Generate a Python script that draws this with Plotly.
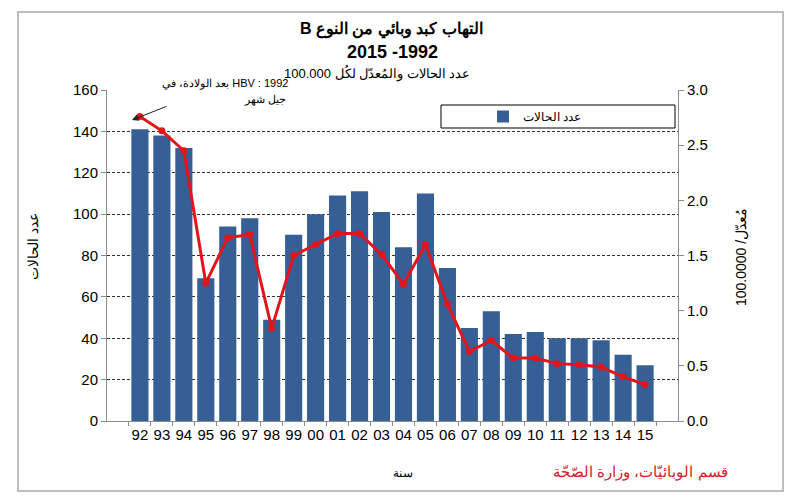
import plotly.graph_objects as go

years = ["92", "93", "94", "95", "96", "97", "98", "99", "00", "01", "02", "03",
         "04", "05", "06", "07", "08", "09", "10", "11", "12", "13", "14", "15"]
cases = [141, 138, 132, 69, 94, 98, 49, 90, 100, 109, 111, 101,
         84, 110, 74, 45, 53, 42, 43, 40, 40, 39, 32, 27]
rate = [2.76, 2.63, 2.45, 1.25, 1.66, 1.69, 0.84, 1.50, 1.60, 1.70, 1.70, 1.51,
        1.24, 1.60, 1.06, 0.63, 0.73, 0.57, 0.57, 0.52, 0.51, 0.49, 0.40, 0.33]
left_ticks = [0, 20, 40, 60, 80, 100, 120, 140, 160]
right_ticks = [0.0, 0.5, 1.0, 1.5, 2.0, 2.5, 3.0]

# page body has an 8px margin; work in page pixel coordinates and convert
OFF = 8
W, H = 784, 488
PL, PR, PT, PB = 107, 678, 90, 421          # plot area in page pixels
L, T = PL - OFF, PT - OFF
R, B = W - (PR - OFF), H - (PB - OFF)
PW, PH = PR - PL, PB - PT


def px(x):
    return (x - PL) / PW


def py(y):
    return (PB - y) / PH


LRM = "\u200e"
FONT = "Arial, Liberation Sans, sans-serif"
BAR = "#365F96"
RED = "#E3141C"

fig = go.Figure()
fig.add_trace(go.Bar(x=years, y=cases, name="عدد الحالات", marker_color=BAR,
                     marker_line_width=0, yaxis="y"))
fig.add_trace(go.Scatter(x=years, y=rate, mode="lines+markers", yaxis="y2",
                         line=dict(color=RED, width=3), marker=dict(size=7, color=RED),
                         showlegend=False, cliponaxis=False))

fig.update_layout(
    width=W, height=H,
    margin=dict(l=L, r=R, t=T, b=B, autoexpand=False),
    paper_bgcolor="white", plot_bgcolor="white",
    font=dict(family=FONT, color="black", size=15),
    bargap=0.22,
    showlegend=True,
    legend=dict(x=px(483), y=py(116.5), xanchor="left", yanchor="middle",
                bgcolor="rgba(0,0,0,0)", borderwidth=0, font=dict(size=12, family=FONT)),
    xaxis=dict(type="category", showline=True, linecolor="#8c8c8c", linewidth=1,
               ticks="outside", tickson="boundaries", ticklen=4, tickcolor="#8c8c8c",
               showgrid=False, tickangle=0, tickfont=dict(size=15)),
    yaxis=dict(range=[0, 160], tickvals=left_ticks, showline=True, linecolor="#8c8c8c",
               linewidth=1, ticks="outside", ticklen=5, tickcolor="#8c8c8c",
               showgrid=True, gridcolor="#333333", gridwidth=1, griddash="3px,2px",
               zeroline=False, tickfont=dict(size=15)),
    yaxis2=dict(range=[0, 3], tickvals=right_ticks, tickformat=".1f", overlaying="y",
                side="right", showline=True, linecolor="#8c8c8c", linewidth=1,
                ticks="outside", ticklen=5, tickcolor="#8c8c8c", showgrid=False,
                zeroline=False, tickfont=dict(size=15)),
)

shapes = [
    # outer frame
    dict(type="rect", xref="paper", yref="paper", x0=px(18), x1=px(783), y0=py(491), y1=py(12),
         line=dict(color="#bdbdbd", width=2), fillcolor="rgba(0,0,0,0)", layer="below"),
    # legend box
    dict(type="rect", xref="paper", yref="paper", x0=px(441), x1=px(675), y0=py(128), y1=py(105),
         line=dict(color="black", width=1), fillcolor="white", layer="above"),
]
fig.update_layout(shapes=shapes)

ann = [
    dict(text="<b>B التهاب كبد وبائي من النوع</b>", x=px(391), y=py(30), font=dict(size=16)),
    dict(text="<b>" + LRM + "2015 -1992</b>", x=px(392), y=py(52), font=dict(size=18)),
    dict(text=LRM + "100.000 عدد الحالات والمُعدّل لكُل", x=px(377), y=py(73), font=dict(size=13)),
    dict(text=LRM + "بعد الولادة، في HBV : 1992", x=px(290), y=py(83), xanchor="right",
         font=dict(size=11)),
    dict(text="جيل شهر", x=px(288), y=py(100), xanchor="right", font=dict(size=11)),
    dict(text="عدد الحالات", x=px(33), y=py(247), textangle=-90, font=dict(size=14)),
    dict(text=LRM + "100.0000 /مُعدّل", x=px(741), y=py(257), textangle=-90, font=dict(size=14)),
    dict(text="سنة", x=px(403), y=py(473), font=dict(size=12)),
    dict(text="قسم الوبائيّات، وزارة الصّحّة", x=px(640), y=py(472),
         font=dict(size=15, color="#D42027")),
]
annotations = []
for a in ann:
    d = dict(xref="paper", yref="paper", showarrow=False, xanchor="center", yanchor="middle")
    d.update(a)
    f = dict(family=FONT, color="black")
    f.update(a.get("font", {}))
    d["font"] = f
    annotations.append(d)

# arrow pointing at the first rate point
annotations.append(dict(xref="paper", yref="paper", x=px(132), y=py(120),
                        ax=38, ay=-15, axref="pixel", ayref="pixel",
                        showarrow=True, arrowhead=2, arrowsize=1.3, arrowwidth=1,
                        arrowcolor="#222222", text=" ", standoff=0))
fig.update_layout(annotations=annotations)

fig.write_html("out.html")
